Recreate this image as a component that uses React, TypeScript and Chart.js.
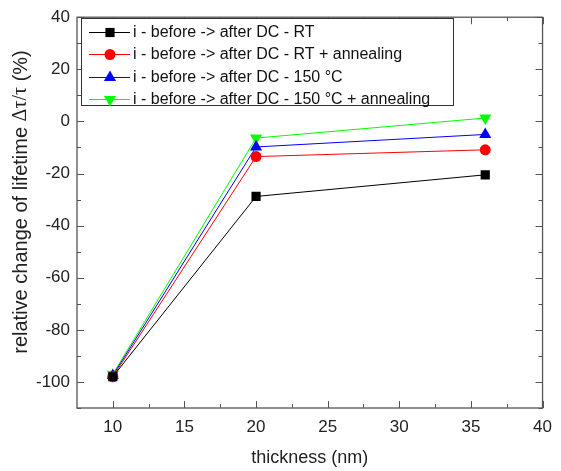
import React, { useEffect, useRef } from "react";
import { Chart, registerables } from "chart.js";

Chart.register(...registerables);

const thickness = [10, 20, 36];
const seriesLabels = [
  "i - before -> after DC - RT",
  "i - before -> after DC - RT + annealing",
  "i - before -> after DC - 150 °C",
  "i - before -> after DC - 150 °C + annealing",
];
const rtValues = [-98, -28.8, -20.5];
const rtAnnealValues = [-98, -13.5, -10.9];
const hotValues = [-97.5, -9.8, -5.0];
const hotAnnealValues = [-97, -6.4, 1.3];
const seriesColors = ["#000000", "#ff0000", "#0000ff", "#00ff00"];
const pointStyles = ["rect", "circle", "triangle", "triangle"];
const pointRotations = [0, 0, 0, 180];
const pointRadii = [6.5, 5.5, 7, 7];
const xTicks = [10, 15, 20, 25, 30, 35, 40];
const xMinor = [12.5, 17.5, 22.5, 27.5, 32.5, 37.5];
const yTicks = [-100, -80, -60, -40, -20, 0, 20, 40];
const yMinor = [-110, -90, -70, -50, -30, -10, 10, 30];
const yTitleParts = ["relative change of lifetime ", "Δτ/τ", " (%)"];

const FONT = "'Liberation Sans', Arial, sans-serif";
const SERIF = "'Liberation Serif', 'DejaVu Serif', serif";

function drawMarker(
  ctx: CanvasRenderingContext2D,
  style: string,
  rotation: number,
  radius: number,
  x: number,
  y: number,
  color: string
) {
  ctx.save();
  ctx.fillStyle = color;
  ctx.translate(x, y);
  ctx.rotate((rotation * Math.PI) / 180);
  ctx.beginPath();
  if (style === "rect") {
    const s = Math.SQRT1_2 * radius;
    ctx.rect(-s, -s, 2 * s, 2 * s);
  } else if (style === "circle") {
    ctx.arc(0, 0, radius, 0, Math.PI * 2);
  } else {
    const h = radius * 1.5;
    const w = radius * Math.sqrt(3);
    ctx.moveTo(0, -radius);
    ctx.lineTo(w / 2, h - radius);
    ctx.lineTo(-w / 2, h - radius);
    ctx.closePath();
  }
  ctx.fill();
  ctx.restore();
}

export default function App() {
  const ref = useRef<HTMLCanvasElement | null>(null);

  useEffect(() => {
    if (!ref.current) return;
    const all = [rtValues, rtAnnealValues, hotValues, hotAnnealValues];
    const datasets = all.map((vals, i) => ({
      label: seriesLabels[i],
      data: thickness.map((x, j) => ({ x, y: vals[j] })),
      borderColor: seriesColors[i],
      backgroundColor: seriesColors[i],
      borderWidth: 1,
      pointStyle: pointStyles[i] as any,
      rotation: pointRotations[i],
      pointRadius: pointRadii[i],
      pointBorderWidth: 0,
      showLine: true,
    }));

    const framePlugin = {
      id: "frame",
      afterDraw(chart: any) {
        const { ctx, chartArea: a, scales } = chart;
        const xs = scales.x;
        const ys = scales.y;
        ctx.save();
        ctx.strokeStyle = "#555555";
        ctx.lineWidth = 1.3;
        ctx.strokeRect(a.left, a.top, a.right - a.left, a.bottom - a.top);
        ctx.lineWidth = 1;
        const drawX = (v: number, len: number) => {
          const px = Math.round(xs.getPixelForValue(v)) + 0.5;
          ctx.beginPath();
          ctx.moveTo(px, a.bottom);
          ctx.lineTo(px, a.bottom - len);
          ctx.moveTo(px, a.top);
          ctx.lineTo(px, a.top + len);
          ctx.stroke();
        };
        const drawY = (v: number, len: number) => {
          const py = Math.round(ys.getPixelForValue(v)) + 0.5;
          ctx.beginPath();
          ctx.moveTo(a.left, py);
          ctx.lineTo(a.left + len, py);
          ctx.moveTo(a.right, py);
          ctx.lineTo(a.right - len, py);
          ctx.stroke();
        };
        xTicks.forEach((v) => drawX(v, 7));
        xMinor.forEach((v) => drawX(v, 4));
        yTicks.forEach((v) => drawY(v, 7));
        yMinor.forEach((v) => drawY(v, 4));

        // y-axis title (mixed fonts)
        const fonts = [`20px ${FONT}`, `20px ${SERIF}`, `20px ${FONT}`];
        let total = 0;
        const widths = yTitleParts.map((t, i) => {
          ctx.font = fonts[i];
          const w = ctx.measureText(t).width;
          total += w;
          return w;
        });
        ctx.save();
        ctx.translate(21, 202);
        ctx.rotate(-Math.PI / 2);
        ctx.fillStyle = "#222222";
        ctx.textBaseline = "middle";
        ctx.textAlign = "left";
        let cx = -total / 2;
        yTitleParts.forEach((t, i) => {
          ctx.font = fonts[i];
          ctx.fillText(t, cx, 0);
          cx += widths[i];
        });
        ctx.restore();

        // legend box
        const bx = 81, by = 18, bw = 372, bh = 87;
        ctx.fillStyle = "#ffffff";
        ctx.fillRect(bx, by, bw, bh);
        ctx.strokeStyle = "#333333";
        ctx.lineWidth = 1;
        ctx.strokeRect(bx + 0.5, by + 0.5, bw, bh);
        ctx.font = `16px ${FONT}`;
        ctx.textBaseline = "middle";
        ctx.textAlign = "left";
        const rowY = [32, 54, 77, 99];
        seriesLabels.forEach((lab, i) => {
          const y = rowY[i];
          ctx.strokeStyle = seriesColors[i];
          ctx.lineWidth = 1;
          ctx.beginPath();
          ctx.moveTo(89, y + 0.5);
          ctx.lineTo(130, y + 0.5);
          ctx.stroke();
          drawMarker(ctx, pointStyles[i], pointRotations[i], pointRadii[i], 110, y + 0.5, seriesColors[i]);
          ctx.fillStyle = "#111111";
          ctx.fillText(lab, 133, y + 1);
        });
        ctx.restore();
      },
    };

    const chart = new Chart(ref.current, {
      type: "scatter",
      data: { datasets: datasets as any },
      options: {
        animation: false,
        responsive: false,
        maintainAspectRatio: false,
        layout: { padding: { top: 16, right: 10, left: 0, bottom: 0 } },
        plugins: { legend: { display: false }, tooltip: { enabled: false } },
        scales: {
          x: {
            type: "linear",
            min: 7.5,
            max: 40,
            afterBuildTicks: (s: any) => {
              s.ticks = xTicks.map((v) => ({ value: v }));
            },
            afterFit: (s: any) => {
              s.height = 63;
            },
            grid: { display: false, drawTicks: false },
            border: { display: false },
            ticks: {
              padding: 9,
              color: "#222222",
              font: { family: FONT, size: 17 },
              maxRotation: 0,
              autoSkip: false,
            },
            title: {
              display: true,
              text: "thickness (nm)",
              color: "#222222",
              font: { family: FONT, size: 18 },
              padding: { top: 0, bottom: 2 },
            },
          },
          y: {
            type: "linear",
            min: -110,
            max: 40,
            afterBuildTicks: (s: any) => {
              s.ticks = yTicks.map((v) => ({ value: v }));
            },
            afterFit: (s: any) => {
              s.width = 77;
            },
            grid: { display: false, drawTicks: false },
            border: { display: false },
            ticks: {
              padding: 7,
              color: "#222222",
              font: { family: FONT, size: 17 },
              autoSkip: false,
            },
            title: { display: false },
          },
        },
      },
      plugins: [framePlugin],
    });
    return () => chart.destroy();
  }, []);

  return (
    <div style={{ position: "fixed", left: 0, top: 0, width: 561, height: 471, background: "#fff" }}>
      <canvas ref={ref} width={561} height={471} style={{ width: 561, height: 471, display: "block" }} />
    </div>
  );
}
